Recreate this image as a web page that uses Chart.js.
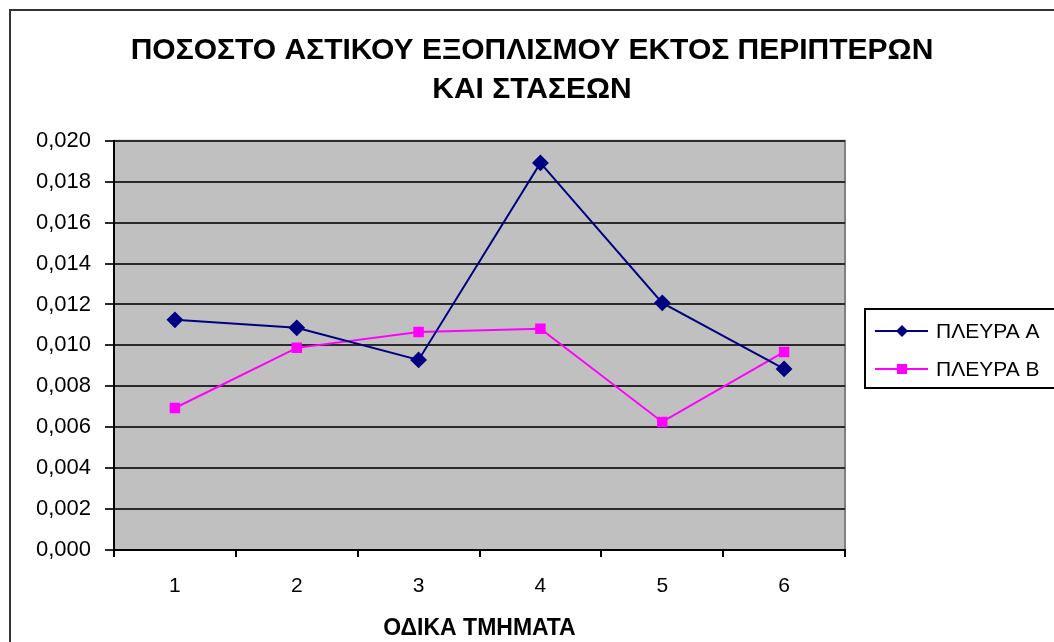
<!DOCTYPE html>
<html>
<head>
<meta charset="utf-8">
<script src="https://cdn.jsdelivr.net/npm/chart.js@4"></script>
<style>
    html, body { margin: 0; padding: 0; background: #ffffff; }
    #wrap { width: 1054px; height: 642px; }
</style>
</head>
<body>
<div id="wrap"><canvas id="lineChart" width="1054" height="642"></canvas></div>
<script>
/* =========================
   Data
========================= */
const segments = ["1", "2", "3", "4", "5", "6"];
const sideA = [0.01125, 0.01086, 0.00929, 0.01892, 0.01208, 0.00885];
const sideB = [0.00694, 0.00988, 0.01066, 0.01081, 0.00626, 0.00968];
const seriesNames = ["ΠΛΕΥΡΑ Α", "ΠΛΕΥΡΑ Β"];
const titleLines = ["ΠΟΣΟΣΤΟ ΑΣΤΙΚΟΥ ΕΞΟΠΛΙΣΜΟΥ ΕΚΤΟΣ ΠΕΡΙΠΤΕΡΩΝ", "ΚΑΙ ΣΤΑΣΕΩΝ"];
const xTitle = "ΟΔΙΚΑ ΤΜΗΜΑΤΑ";

const FONT = "'Liberation Sans', Arial, sans-serif";
Chart.defaults.font.family = FONT;
Chart.defaults.color = "#000000";

/* =========================
   Frame, plot area, legend
========================= */
const excelLook = {
    id: "excelLook",
    beforeDraw(chart) {
        const ctx = chart.ctx;
        const a = chart.chartArea;
        ctx.save();
        ctx.fillStyle = "#ffffff";
        ctx.fillRect(0, 0, chart.width, chart.height);
        // outer chart border
        ctx.strokeStyle = "#333333";
        ctx.lineWidth = 2;
        ctx.strokeRect(10, 10, chart.width + 20, chart.height + 20);
        // plot background
        ctx.fillStyle = "#c0c0c0";
        ctx.fillRect(a.left, a.top, a.right - a.left, a.bottom - a.top);
        ctx.strokeStyle = "#808080";
        ctx.lineWidth = 2;
        ctx.strokeRect(a.left, a.top, a.right - a.left, a.bottom - a.top);
        ctx.restore();
    },
    afterDraw(chart) {
        const ctx = chart.ctx;
        const box = { x: 865, y: 309, w: 200, h: 79 };
        ctx.save();
        ctx.strokeStyle = "#000000";
        ctx.lineWidth = 2;
        ctx.strokeRect(box.x, box.y, box.w, box.h);
        chart.data.datasets.forEach((ds, i) => {
            const y = box.y + 22 + i * 38;
            const mx = box.x + 37;
            ctx.strokeStyle = ds.borderColor;
            ctx.lineWidth = 2;
            ctx.beginPath();
            ctx.moveTo(box.x + 10, y);
            ctx.lineTo(box.x + 63, y);
            ctx.stroke();
            ctx.fillStyle = ds.pointBackgroundColor;
            if (ds.pointStyle === "rectRot") {
                ctx.beginPath();
                ctx.moveTo(mx, y - 6);
                ctx.lineTo(mx + 6, y);
                ctx.lineTo(mx, y + 6);
                ctx.lineTo(mx - 6, y);
                ctx.closePath();
                ctx.fill();
            } else {
                ctx.fillRect(mx - 5, y - 5, 10, 10);
            }
            ctx.fillStyle = "#000000";
            ctx.font = "21px " + FONT;
            ctx.textBaseline = "middle";
            ctx.textAlign = "left";
            ctx.fillText(ds.label, box.x + 71, y + 1);
        });
        ctx.restore();
    }
};

/* =========================
   Chart
========================= */
new Chart(document.getElementById("lineChart"), {
    type: "line",
    data: {
        labels: segments,
        datasets: [{
            label: seriesNames[0],
            data: sideA,
            borderColor: "#000080",
            backgroundColor: "#000080",
            pointBackgroundColor: "#000080",
            pointBorderColor: "#000080",
            pointStyle: "rectRot",
            pointRadius: 7,
            borderWidth: 2,
            tension: 0
        }, {
            label: seriesNames[1],
            data: sideB,
            borderColor: "#ff00ff",
            backgroundColor: "#ff00ff",
            pointBackgroundColor: "#ff00ff",
            pointBorderColor: "#ff00ff",
            pointStyle: "rect",
            pointRadius: 6,
            borderWidth: 2,
            tension: 0
        }]
    },
    options: {
        responsive: false,
        animation: false,
        layout: { padding: { left: 10, right: 0, top: 10, bottom: 0 } },
        plugins: {
            legend: { display: false },
            tooltip: { enabled: false },
            title: {
                display: true,
                text: titleLines,
                color: "#000000",
                font: { size: 30, weight: "bold", lineHeight: 1.28 },
                padding: { top: 22, bottom: 32 }
            }
        },
        scales: {
            x: {
                offset: true,
                grid: {
                    offset: true,
                    drawOnChartArea: false,
                    drawTicks: true,
                    tickLength: 7,
                    color: "#000000",
                    lineWidth: 2
                },
                border: { color: "#000000", width: 2 },
                ticks: { padding: 17, font: { size: 21 }, color: "#000000" },
                title: {
                    display: true,
                    text: xTitle,
                    color: "#000000",
                    font: { size: 23, weight: "bold" },
                    padding: { top: 4, bottom: 0 }
                },
                afterFit(scale) { scale.height = 92; }
            },
            y: {
                min: 0,
                max: 0.02,
                grid: {
                    color: "#2a2a2a",
                    lineWidth: 2,
                    drawTicks: true,
                    tickLength: 9
                },
                border: { color: "#000000", width: 2 },
                ticks: {
                    stepSize: 0.002,
                    padding: 14,
                    font: { size: 22 },
                    color: "#000000",
                    callback: v => v.toFixed(3).replace(".", ",")
                },
                afterFit(scale) { scale.width = 104; }
            },
            // empty right-hand space where the legend sits
            legendSpace: {
                type: "linear",
                position: "right",
                display: true,
                grid: { display: false, drawTicks: false },
                border: { display: false },
                ticks: { display: false },
                afterFit(scale) { scale.width = 209; }
            }
        }
    },
    plugins: [excelLook]
});
</script>
</body>
</html>
